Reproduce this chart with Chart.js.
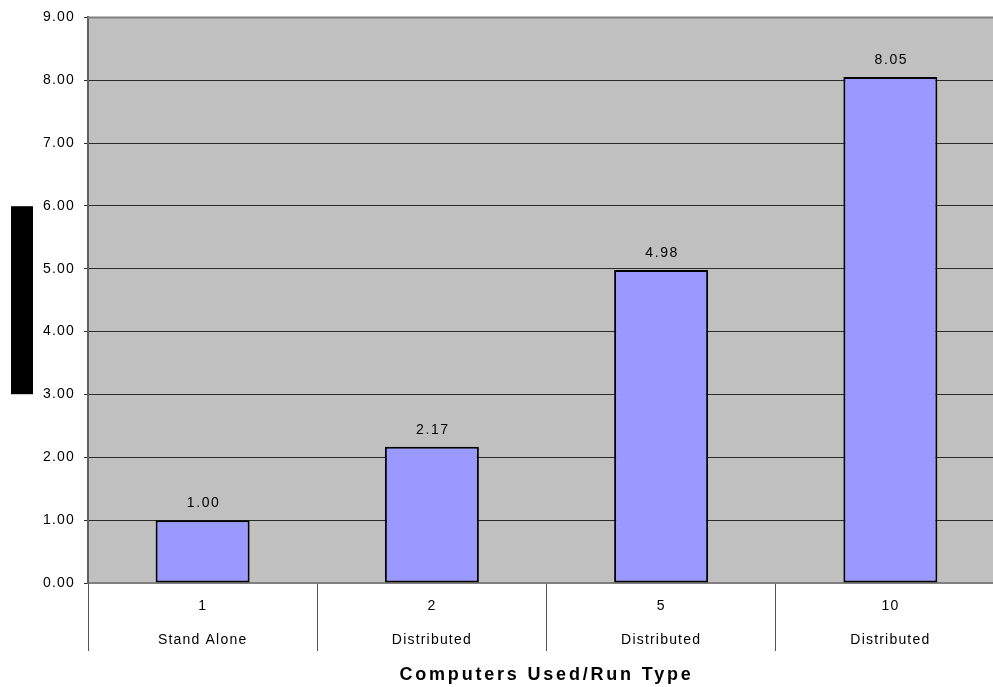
<!DOCTYPE html>
<html>
<head>
<meta charset="utf-8">
<script src="https://cdn.jsdelivr.net/npm/chart.js@4/dist/chart.umd.min.js"></script>
<style>
  html, body { margin: 0; padding: 0; overflow: hidden; background: #fff; }
  #wrap { position: absolute; left: 0; top: 0; width: 1020px; height: 687px; }
</style>
</head>
<body>
<div id="wrap"><canvas id="c" width="1020" height="687"></canvas></div>
<script>
// Speed-up factor per configuration
const computers = ['1', '2', '5', '10'];
const runTypes = ['Stand Alone', 'Distributed', 'Distributed', 'Distributed'];
const speedup = [1.00, 2.17, 4.98, 8.05];
const yTicks = [0, 1, 2, 3, 4, 5, 6, 7, 8, 9];
const xTitle = 'Computers Used/Run Type';

const FONT = "'Liberation Sans', Arial, sans-serif";
const labels = computers.map((c, i) => [c, runTypes[i]]);

const plotFrame = {
  id: 'plotFrame',
  beforeDraw(chart) {
    const { ctx, chartArea: a } = chart;
    ctx.save();
    ctx.fillStyle = '#C0C0C0';
    ctx.fillRect(a.left, a.top, a.right - a.left, a.bottom - a.top);
    ctx.restore();
    // slightly open letter spacing for the axis text
    ctx.letterSpacing = '1.2px';
  },
  afterDraw(chart) {
    const { ctx, chartArea: a } = chart;
    ctx.save();
    ctx.strokeStyle = '#808080';
    ctx.lineWidth = 2;
    ctx.beginPath();
    ctx.moveTo(a.left, a.top);
    ctx.lineTo(a.right, a.top);
    ctx.lineTo(a.right, a.bottom);
    ctx.stroke();
    // vertical axis title block
    const cy = (a.top + a.bottom) / 2;
    ctx.fillStyle = '#000';
    ctx.fillRect(11, cy - 94, 22, 188);
    // horizontal axis title
    ctx.letterSpacing = '2.8px';
    ctx.font = 'bold 18px ' + FONT;
    ctx.textAlign = 'center';
    ctx.textBaseline = 'middle';
    ctx.fillText(xTitle, (a.left + a.right) / 2, chart.height - 12);
    ctx.restore();
  }
};

const valueLabels = {
  id: 'valueLabels',
  afterDatasetsDraw(chart) {
    const { ctx } = chart;
    const meta = chart.getDatasetMeta(0);
    ctx.save();
    ctx.letterSpacing = '1.6px';
    ctx.font = '14px ' + FONT;
    ctx.fillStyle = '#000';
    ctx.textAlign = 'center';
    ctx.textBaseline = 'alphabetic';
    meta.data.forEach((bar, i) => {
      ctx.fillText(speedup[i].toFixed(2), bar.x + 1, bar.y - 13);
    });
    ctx.restore();
  }
};

new Chart(document.getElementById('c'), {
  type: 'bar',
  data: {
    labels: labels,
    datasets: [{
      data: speedup,
      backgroundColor: '#9999FF',
      borderColor: '#000000',
      borderWidth: 2,
      borderSkipped: false,
      categoryPercentage: 1.0,
      barPercentage: 0.41
    }]
  },
  options: {
    responsive: false,
    devicePixelRatio: 1,
    animation: false,
    layout: { padding: { top: 16, right: 15, left: 0, bottom: 0 } },
    plugins: { legend: { display: false }, tooltip: { enabled: false } },
    scales: {
      x: {
        type: 'category',
        offset: true,
        grid: {
          offset: true,
          drawOnChartArea: false,
          drawTicks: true,
          tickLength: 68,
          color: '#555555',
          lineWidth: 1
        },
        border: { color: '#808080', width: 2 },
        ticks: {
          autoSkip: false,
          maxRotation: 0,
          padding: -62,
          color: '#000',
          font: { family: FONT, size: 14, lineHeight: '34px' }
        },
        title: { display: false },
        afterFit(s) { s.height = 104; }
      },
      y: {
        min: 0,
        max: 9,
        afterBuildTicks(s) { s.ticks = yTicks.map(v => ({ value: v })); },
        grid: {
          color: '#2a2a2a',
          lineWidth: 1,
          tickLength: 4,
          tickColor: '#2a2a2a'
        },
        border: { color: '#606060', width: 2 },
        ticks: {
          padding: 9,
          color: '#000',
          font: { family: FONT, size: 14 },
          callback: v => Number(v).toFixed(2)
        },
        afterFit(s) { s.width = 88; }
      }
    }
  },
  plugins: [plotFrame, valueLabels]
});
</script>
</body>
</html>
